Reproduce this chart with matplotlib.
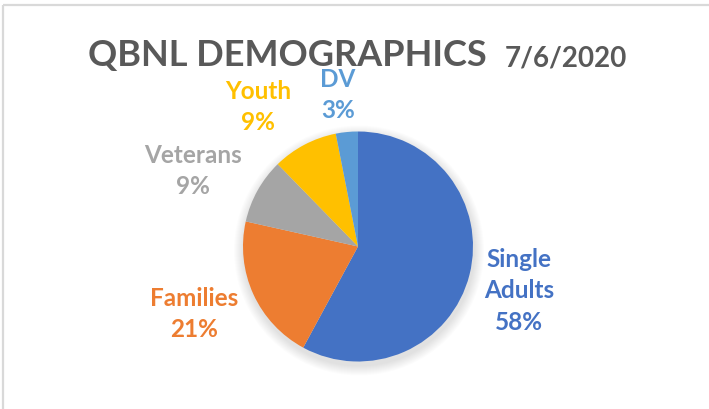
import numpy as np
import matplotlib.pyplot as plt
from matplotlib.patches import Circle, Rectangle

# chart data (percent of total)
categories = ['Single\nAdults', 'Families', 'Veterans', 'Youth', 'DV']
shares = [57.9, 20.6, 9.2, 9.2, 3.1]
colors = ['#4472C4', '#ED7D31', '#A5A5A5', '#FFC000', '#5B9BD5']

# where Excel put each data label (pixel coords, y down)
label_pos = [(519, 291), (194, 314), (193, 171), (258, 107), (338, 95)]

W, H = 709, 409
plt.rcParams['font.family'] = ['Lato', 'DejaVu Sans']

fig = plt.figure(figsize=(W / 100, H / 100), dpi=100)
ax = fig.add_axes([0, 0, 1, 1])

# chart area border (only the left and top edges are in view)
ax.add_patch(Rectangle((3, 5), W + 20, H + 20, fill=False,
                       edgecolor='#D9D9D9', linewidth=1.6))

cx, cy, r = 358, 246.5, 115

# soft drop shadow under the pie
for k in range(10):
    ax.add_patch(Circle((cx + 1, cy + 4), r + 1 + k * 1.0,
                        facecolor='black', edgecolor='none', alpha=0.012, zorder=1))

ax.pie(shares, colors=colors, startangle=-90, counterclock=True,
       center=(cx, cy), radius=r, frame=True,
       wedgeprops=dict(linewidth=0, zorder=2))
ax.set_xlim(0, W)
ax.set_ylim(H, 0)
ax.set_aspect('equal')
ax.axis('off')

for name, val, col, (x, y) in zip(categories, shares, colors, label_pos):
    ax.text(x, y, f'{name}\n{round(val):.0f}%', color=col, fontsize=17.5,
            fontweight='bold', ha='center', va='center', linespacing=1.45, zorder=3)

ax.text(88, 66, 'QBNL DEMOGRAPHICS', color='#595959', fontsize=26,
        fontweight='bold', ha='left', va='baseline', zorder=3)
ax.text(505, 66, '7/6/2020', color='#595959', fontsize=20,
        fontweight='bold', ha='left', va='baseline', zorder=3)

fig.savefig('out.png', dpi=100, facecolor='white')
